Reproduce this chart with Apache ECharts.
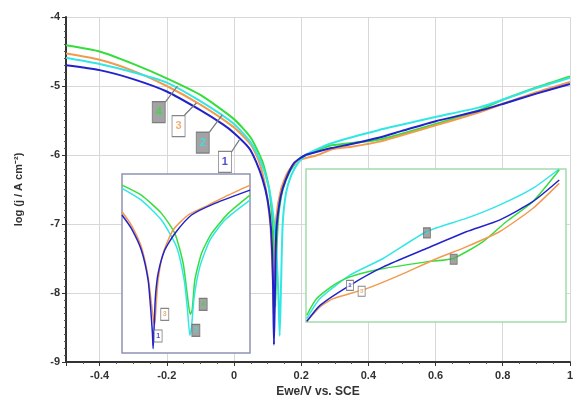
<!DOCTYPE html>
<html>
<head>
<meta charset="utf-8">
<script src="https://cdn.jsdelivr.net/npm/echarts@6/dist/echarts.min.js"></script>
<style>
  html, body { margin: 0; padding: 0; background: #fff; }
  #main { width: 576px; height: 412px; }
</style>
</head>
<body>
<div id="main"></div>
<script>
// main curves: [E (V vs SCE), log j]
var curve1 = [[-0.5,-4.70],[-0.4,-4.77],[-0.3,-4.90],[-0.2,-5.08],[-0.1,-5.35],[-0.035,-5.55],[0,-5.68],[0.045,-5.90],[0.066,-6.10],[0.085,-6.35],[0.1,-6.65],[0.11,-7.05],[0.116,-7.8],[0.119,-8.75],[0.122,-8.0],[0.126,-7.1],[0.139,-6.6],[0.154,-6.36],[0.178,-6.12],[0.213,-6.0],[0.25,-5.95],[0.29,-5.9],[0.35,-5.84],[0.43,-5.75],[0.5,-5.65],[0.6,-5.51],[0.73,-5.36],[0.8,-5.26],[0.9,-5.11],[1,-4.97]];
var curve2 = [[-0.5,-4.59],[-0.4,-4.68],[-0.3,-4.80],[-0.2,-4.95],[-0.1,-5.22],[0,-5.55],[0.05,-5.82],[0.08,-6.1],[0.1,-6.4],[0.115,-6.8],[0.125,-7.3],[0.132,-8.0],[0.136,-8.62],[0.14,-7.9],[0.145,-7.0],[0.155,-6.55],[0.17,-6.3],[0.19,-6.12],[0.22,-5.98],[0.29,-5.83],[0.43,-5.64],[0.6,-5.45],[0.73,-5.31],[0.8,-5.2],[0.9,-5.03],[1,-4.88]];
var curve3 = [[-0.5,-4.53],[-0.4,-4.62],[-0.3,-4.78],[-0.2,-5.0],[-0.1,-5.27],[0,-5.6],[0.05,-5.85],[0.075,-6.1],[0.095,-6.5],[0.108,-7.0],[0.115,-7.7],[0.118,-8.3],[0.121,-7.6],[0.126,-6.9],[0.14,-6.5],[0.16,-6.25],[0.19,-6.08],[0.25,-6.0],[0.29,-5.92],[0.35,-5.88],[0.43,-5.81],[0.6,-5.57],[0.73,-5.38],[0.8,-5.26],[0.9,-5.09],[1,-4.94]];
var curve4 = [[-0.5,-4.41],[-0.4,-4.50],[-0.3,-4.68],[-0.2,-4.89],[-0.1,-5.13],[0,-5.48],[0.05,-5.75],[0.085,-6.1],[0.105,-6.5],[0.115,-7.0],[0.12,-7.6],[0.123,-8.2],[0.126,-7.5],[0.132,-6.9],[0.145,-6.5],[0.165,-6.25],[0.195,-6.05],[0.25,-5.93],[0.29,-5.86],[0.43,-5.78],[0.6,-5.55],[0.73,-5.35],[0.8,-5.2],[0.9,-5.02],[1,-4.86]];

// left inset (zoom of the Tafel minima), local units 0..100
var insetL1 = [[0,77.1],[7.3,69.6],[15.1,57.5],[20.4,40.7],[22.5,23.9],[23.8,10.8],[24.3,2.4],[25.1,14.6],[26.1,31.3],[28.2,44.4],[33.4,57.5],[41.3,66.8],[54.3,77.1],[72.6,83.6],[100,91]];
var insetL2 = [[0,92],[15.1,85.4],[30.8,74.3],[42.6,59.3],[48.6,40.7],[51.2,23.9],[53,9.9],[54.3,14.6],[56.4,31.3],[60.8,48.1],[68.7,63.1],[80.4,74.3],[100,85.4]];
var insetL3 = [[0,78.9],[7.3,71.5],[15.1,59.3],[20.4,42.5],[23,27.6],[24.8,17.4],[25.6,16],[26.4,23.9],[28.2,40.7],[32.1,55.6],[39.9,68.7],[51.7,77.1],[67.4,82.6],[83,88.2],[100,93.8]];
var insetL4 = [[0,93.8],[15.1,88.2],[30.8,78],[41.3,66.8],[47.8,50],[51.2,31.3],[53.3,21.6],[54.8,23.9],[56.9,40.7],[62.1,55.6],[70,66.8],[83,78],[100,88.2]];

// right inset (zoom of the anodic branch), local units 0..100
var insetR1 = [[0.3,0.4],[5.4,10.9],[16.9,24],[29.7,36],[46.3,48],[61.6,59],[74.4,66.6],[87.2,78.6],[97.4,92.8]];
var insetR2 = [[0.3,2.2],[5.4,15.3],[16.9,30.6],[29.7,41.5],[46.3,59],[61.6,67.7],[74.4,76.4],[87.2,87.3],[97.4,100]];
var insetR3 = [[0.3,0.4],[5.4,9.8],[10.5,15.3],[23.3,21.8],[36.1,30.6],[48.8,40.4],[61.6,49.1],[74.4,59],[87.2,74.2],[97.4,90.6]];
var insetR4 = [[0.3,4.4],[4.1,15.3],[10.5,24],[16.9,29.5],[29.7,34.9],[46.3,39.3],[56.5,41.5],[68,52.4],[77,65.5],[87.2,78.6],[97.4,99.3]];

// curve tags: [x, y, text]
var tagsMain = [[-0.224,-5.377,'4'],[-0.165,-5.58,'3'],[-0.093,-5.82,'2'],[-0.027,-6.10,'1']];
var leadersMain = [[[-0.204,-5.23],[-0.168,-5.0]],[[-0.147,-5.42],[-0.112,-5.246]],[[-0.073,-5.67],[-0.035,-5.42]],[[-0.008,-5.96],[0.016,-5.78]]];
var tagsL = [[28.2,9.5,'1'],[57.7,12.7,'2'],[33.4,21.6,'3'],[63.4,27.2,'4']];
var tagsR = [[16.9,24,'1'],[46.5,58.3,'2'],[21.4,20.1,'3'],[56.8,41,'4']];

var xTicks = [-0.5, 1];
var yTicks = [-9, -4];

var colors = {'1': '#2222cc', '2': '#33e6e6', '3': '#f29a4e', '4': '#36dd3c'};
var boxFill = {'1': '#ffffff', '2': '#8c8c8c', '3': '#ffffff', '4': '#8c8c8c'};
var font = 'Liberation Sans, Arial, sans-serif';

var chart = echarts.init(document.getElementById('main'));

function curve(data, id, xi, z) {
  return {
    type: 'line', data: data, xAxisIndex: xi, yAxisIndex: xi,
    showSymbol: false, smooth: 0.2, z: z,
    lineStyle: { color: colors[id], width: xi === 0 ? 2 : 1.5 },
    animation: false
  };
}

function tags(list, xi, size, fs, z) {
  return {
    type: 'scatter', xAxisIndex: xi, yAxisIndex: xi, z: z,
    symbol: 'rect', symbolSize: size, animation: false,
    data: list.map(function (t) {
      return {
        value: [t[0], t[1]],
        itemStyle: { color: boxFill[t[2]], borderColor: '#666', borderWidth: 1 },
        label: { show: true, formatter: t[2], position: 'inside', color: colors[t[2]],
                 fontSize: fs, fontWeight: 'bold', fontFamily: font }
      };
    })
  };
}

var series = [
  curve(curve4, '4', 0, 2),
  curve(curve3, '3', 0, 3),
  curve(curve2, '2', 0, 4),
  curve(curve1, '1', 0, 5)
];
leadersMain.forEach(function (seg) {
  series.push({
    type: 'line', data: seg, xAxisIndex: 0, yAxisIndex: 0, z: 6,
    symbol: 'circle', symbolSize: [0, 3], showSymbol: true, animation: false,
    itemStyle: { color: '#222' },
    lineStyle: { color: '#777', width: 1.2 }
  });
});
series.push(tags(tagsMain, 0, [13, 21], 11, 7));
series.push(curve(insetL4, '4', 1, 21), curve(insetL2, '2', 1, 21), curve(insetL3, '3', 1, 22), curve(insetL1, '1', 1, 22));
series.push(tags(tagsL, 1, [8, 12], 7, 23));
series.push(curve(insetR2, '2', 2, 21), curve(insetR4, '4', 2, 21), curve(insetR3, '3', 2, 22), curve(insetR1, '1', 2, 22));
series.push(tags(tagsR, 2, [7, 10], 6, 23));

var hiddenAxis = function (gi) {
  return { type: 'value', gridIndex: gi, min: 0, max: 100, show: false };
};

chart.setOption({
  backgroundColor: '#fff',
  animation: false,
  grid: [
    { left: 66, right: 4, top: 17, bottom: 50 },
    { left: 122, top: 174, width: 128, height: 179, show: true, z: 20,
      backgroundColor: '#fff', borderColor: '#8e92b4', borderWidth: 1.5 },
    { left: 306, top: 169, width: 260, height: 153, show: true, z: 20,
      backgroundColor: '#fff', borderColor: '#a3dcae', borderWidth: 1.5 }
  ],
  xAxis: [
    {
      type: 'value', gridIndex: 0, min: xTicks[0], max: xTicks[1], splitNumber: 7,
      name: 'Ewe/V vs. SCE', nameLocation: 'middle', nameGap: 22,
      nameTextStyle: { fontFamily: font, fontWeight: 'bold', fontSize: 12, color: '#333' },
      axisLine: { onZero: false, lineStyle: { color: '#333', width: 2 } },
      axisTick: { show: true, length: 4, lineStyle: { color: '#333' } },
      minorTick: { show: true, splitNumber: 4, length: 2, lineStyle: { color: '#555' } },
      axisLabel: { showMinLabel: false, margin: 8, color: '#333', fontFamily: font, fontWeight: 'bold', fontSize: 11 },
      splitLine: { show: true, lineStyle: { color: '#d8d8d8', width: 1 } }
    },
    hiddenAxis(1),
    hiddenAxis(2)
  ],
  yAxis: [
    {
      type: 'value', gridIndex: 0, min: yTicks[0], max: yTicks[1], interval: 1,
      name: 'log (j / A cm\u207B\u00B2)', nameLocation: 'middle', nameGap: 42,
      nameTextStyle: { fontFamily: font, fontWeight: 'bold', fontSize: 11, color: '#333' },
      axisLine: { show: true, onZero: false, lineStyle: { color: '#333', width: 2 } },
      axisTick: { show: true, length: 4, lineStyle: { color: '#333' } },
      minorTick: { show: true, splitNumber: 10, length: 2, lineStyle: { color: '#555' } },
      axisLabel: { margin: 6, color: '#333', fontFamily: font, fontWeight: 'bold', fontSize: 11 },
      splitLine: { show: true, lineStyle: { color: '#d8d8d8', width: 1 } }
    },
    hiddenAxis(1),
    hiddenAxis(2)
  ],
  series: series
});
</script>
</body>
</html>
